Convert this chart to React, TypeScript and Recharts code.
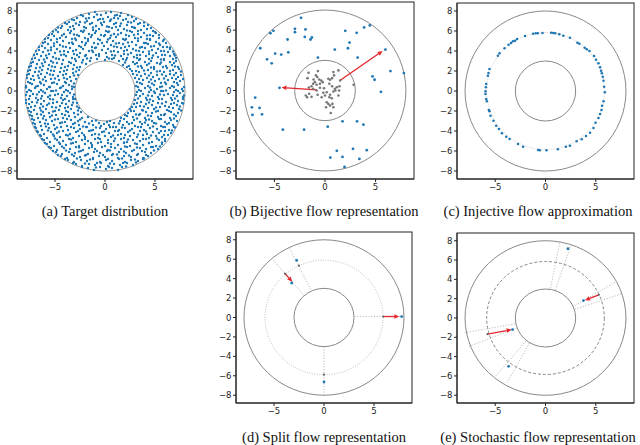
import { ScatterChart, Scatter, XAxis, YAxis, ReferenceArea, ReferenceLine } from "recharts";
import { type FC, type ReactNode } from "react";

type Pt = [number, number];
type Seg = [number, number, number, number];

// (a) samples of the target annulus
const targetPoints: Pt[] = [
  [-1.6,7.7],[-1.0,7.9],[-0.4,7.6],[0.1,7.8],[0.6,7.9],[1.2,7.6],[1.6,7.8],
  [-2.8,7.3],[-2.2,7.5],[-1.6,7.3],[-1.1,7.4],[-0.5,7.2],[0.3,7.4],[0.9,7.3],[1.5,7.5],[2.1,7.2],[2.7,7.4],
  [-3.6,6.9],[-3.1,7.1],[-2.5,6.9],[-1.8,7.0],[-1.3,6.8],[-0.7,7.1],[-0.1,6.9],[0.5,7.0],[1.1,6.8],[1.8,7.1],[2.3,6.9],[2.9,7.0],[3.5,6.8],
  [-4.3,6.5],[-3.8,6.7],[-3.2,6.5],[-2.6,6.6],[-2.1,6.4],[-1.5,6.7],[-0.9,6.5],[-0.3,6.6],[0.4,6.4],[0.9,6.7],[1.5,6.5],[2.2,6.6],[2.7,6.4],[3.3,6.7],[3.9,6.5],[4.3,6.6],
  [-4.9,6.1],[-4.4,6.3],[-3.7,6.1],[-3.1,6.2],[-2.4,6.0],[-1.9,6.3],[-1.2,6.1],[-0.6,6.2],[0.1,6.0],[0.7,6.3],[1.3,6.1],[1.9,6.2],[2.5,6.0],[3.0,6.3],[3.6,6.1],[4.2,6.2],[4.8,6.0],
  [-5.3,5.7],[-4.7,5.9],[-4.1,5.7],[-3.5,5.8],[-2.8,5.6],[-2.2,5.9],[-1.6,5.7],[-1.0,5.8],[-0.4,5.6],[0.3,5.9],[0.9,5.7],[1.6,5.8],[2.1,5.6],[2.7,5.9],[3.3,5.7],[3.9,5.8],[4.5,5.6],[5.1,5.8],
  [-5.7,5.3],[-5.1,5.5],[-4.5,5.3],[-3.9,5.4],[-3.3,5.2],[-2.6,5.5],[-2.0,5.3],[-1.4,5.4],[-0.7,5.2],[-0.1,5.5],[0.5,5.3],[1.1,5.4],[1.8,5.2],[2.4,5.5],[3.0,5.3],[3.6,5.4],[4.2,5.2],[4.8,5.5],[5.4,5.3],
  [-6.0,4.9],[-5.4,5.1],[-4.8,4.9],[-4.2,5.0],[-3.6,4.8],[-2.9,5.1],[-2.3,4.9],[-1.7,5.0],[-1.1,4.8],[-0.5,5.1],[0.2,4.9],[0.8,5.0],[1.4,4.8],[2.0,5.1],[2.7,4.9],[3.3,5.0],[3.9,4.8],[4.5,5.1],[5.1,4.9],[5.8,5.0],
  [-6.3,4.5],[-5.7,4.7],[-5.1,4.5],[-4.5,4.6],[-3.9,4.4],[-3.2,4.7],[-2.6,4.5],[-2.0,4.6],[-1.3,4.4],[-0.7,4.7],[-0.1,4.5],[0.6,4.6],[1.2,4.4],[1.8,4.7],[2.4,4.5],[3.1,4.6],[3.7,4.4],[4.3,4.7],[4.9,4.5],[5.5,4.6],[6.2,4.4],
  [-6.6,4.1],[-6.0,4.3],[-5.4,4.1],[-4.8,4.2],[-4.1,4.0],[-3.5,4.3],[-2.9,4.1],[-2.2,4.2],[-1.6,4.0],[-1.0,4.3],[-0.3,4.1],[0.3,4.2],[0.9,4.0],[1.6,4.3],[2.2,4.1],[2.8,4.2],[3.4,4.0],[4.0,4.3],[4.7,4.1],[5.3,4.2],[5.9,4.0],[6.5,4.2],
  [-6.8,3.7],[-6.2,3.9],[-5.6,3.7],[-5.0,3.8],[-4.4,3.6],[-3.7,3.9],[-3.1,3.7],[-2.5,3.8],[-1.9,3.6],[-1.2,3.9],[-0.6,3.7],[0.1,3.8],[0.7,3.6],[1.3,3.9],[1.9,3.7],[2.6,3.8],[3.2,3.6],[3.8,3.9],[4.4,3.7],[5.1,3.8],[5.7,3.6],[6.3,3.9],[6.9,3.7],
  [-7.0,3.3],[-6.4,3.5],[-5.8,3.3],[-5.2,3.4],[-4.6,3.2],[-3.9,3.5],[-3.3,3.3],[-2.6,3.4],[-2.0,3.5],[-1.4,3.3],[-0.6,3.5],[0.2,3.4],[0.9,3.3],[1.6,3.5],[2.2,3.3],[2.9,3.4],[3.5,3.2],[4.1,3.5],[4.7,3.3],[5.3,3.4],[5.9,3.2],[6.5,3.5],[7.1,3.3],
  [-7.2,2.9],[-6.6,3.1],[-6.0,2.9],[-5.4,3.0],[-4.8,2.8],[-4.2,3.1],[-3.6,2.9],[-2.9,3.0],[-2.2,3.1],[-1.5,3.0],[-0.8,3.2],[0.0,3.1],[0.7,3.2],[1.4,3.0],[2.1,3.1],[2.8,2.9],[3.4,3.1],[4.0,2.9],[4.6,3.0],[5.2,2.8],[5.9,3.1],[6.5,2.9],[7.1,3.0],
  [-7.4,2.5],[-6.8,2.7],[-6.2,2.5],[-5.6,2.6],[-5.0,2.4],[-4.3,2.7],[-3.7,2.5],[-3.1,2.6],[-2.5,2.4],[-1.9,2.7],[1.8,2.6],[2.4,2.5],[3.0,2.7],[3.6,2.5],[4.2,2.6],[4.9,2.4],[5.5,2.7],[6.1,2.5],[6.7,2.6],[7.3,2.4],
  [-7.5,2.1],[-6.9,2.3],[-6.3,2.1],[-5.7,2.2],[-5.1,2.0],[-4.4,2.3],[-3.8,2.1],[-3.2,2.2],[-2.6,2.1],[2.5,2.2],[3.1,2.0],[3.7,2.3],[4.3,2.1],[4.9,2.2],[5.5,2.0],[6.2,2.3],[6.8,2.1],[7.4,2.2],
  [-7.6,1.7],[-7.0,1.9],[-6.4,1.7],[-5.8,1.8],[-5.2,1.6],[-4.5,1.9],[-3.9,1.7],[-3.2,1.8],[-2.7,1.6],[2.8,1.7],[3.4,1.9],[4.0,1.7],[4.6,1.8],[5.2,1.6],[5.9,1.9],[6.5,1.7],[7.1,1.8],[7.6,1.6],
  [-7.8,1.3],[-7.2,1.5],[-6.6,1.3],[-6.0,1.4],[-5.4,1.2],[-4.7,1.5],[-4.1,1.3],[-3.5,1.4],[-2.9,1.2],[3.0,1.3],[3.6,1.5],[4.2,1.3],[4.8,1.4],[5.4,1.2],[6.1,1.5],[6.7,1.3],[7.3,1.4],[7.8,1.2],
  [-7.7,0.9],[-7.1,1.1],[-6.5,0.9],[-5.9,1.0],[-5.3,0.8],[-4.6,1.1],[-4.0,0.9],[-3.4,1.0],[3.2,0.9],[3.8,1.1],[4.4,0.9],[5.0,1.0],[5.6,0.8],[6.3,1.1],[6.9,0.9],[7.5,1.0],
  [-7.9,0.5],[-7.3,0.7],[-6.7,0.5],[-6.1,0.6],[-5.5,0.4],[-4.8,0.7],[-4.2,0.5],[-3.6,0.6],[-3.1,0.4],[3.1,0.5],[3.7,0.7],[4.3,0.5],[4.9,0.6],[5.5,0.4],[6.1,0.7],[6.7,0.5],[7.3,0.6],[7.9,0.4],
  [-7.6,0.1],[-7.0,0.3],[-6.4,0.1],[-5.8,0.2],[-5.2,0.0],[-4.5,0.3],[-3.9,0.1],[-3.3,0.2],[3.4,0.1],[4.0,0.3],[4.6,0.1],[5.2,0.2],[5.8,0.0],[6.5,0.3],[7.1,0.1],[7.7,0.2],
  [-7.8,-0.1],[-7.2,-0.3],[-6.6,-0.1],[-6.0,-0.2],[-5.4,0.0],[-4.7,-0.3],[-4.1,-0.1],[-3.5,-0.2],[3.2,-0.1],[3.8,-0.3],[4.4,-0.1],[5.0,-0.2],[5.6,0.0],[6.3,-0.3],[6.9,-0.1],[7.5,-0.2],
  [-7.5,-0.5],[-6.9,-0.7],[-6.3,-0.5],[-5.7,-0.6],[-5.0,-0.4],[-4.4,-0.7],[-3.8,-0.5],[-3.2,-0.6],[3.5,-0.5],[4.1,-0.7],[4.7,-0.5],[5.3,-0.6],[5.9,-0.4],[6.6,-0.7],[7.2,-0.5],[7.8,-0.6],
  [-7.9,-0.9],[-7.3,-1.1],[-6.7,-0.9],[-6.1,-1.0],[-5.5,-0.8],[-4.8,-1.1],[-4.2,-0.9],[-3.6,-1.0],[-3.0,-0.8],[3.0,-0.9],[3.6,-1.1],[4.2,-0.9],[4.8,-1.0],[5.4,-0.8],[6.1,-1.1],[6.7,-0.9],[7.3,-1.0],[7.8,-0.8],
  [-7.6,-1.3],[-7.0,-1.5],[-6.4,-1.3],[-5.8,-1.4],[-5.2,-1.2],[-4.5,-1.5],[-3.9,-1.3],[-3.3,-1.4],[-2.8,-1.2],[2.9,-1.3],[3.5,-1.5],[4.1,-1.3],[4.7,-1.4],[5.3,-1.2],[6.0,-1.5],[6.6,-1.3],[7.2,-1.4],[7.7,-1.2],
  [-7.7,-1.7],[-7.1,-1.9],[-6.5,-1.7],[-5.9,-1.8],[-5.3,-1.6],[-4.6,-1.9],[-4.0,-1.7],[-3.4,-1.8],[-2.6,-1.7],[2.5,-1.8],[3.1,-1.6],[3.7,-1.9],[4.3,-1.7],[4.9,-1.8],[5.5,-1.6],[6.2,-1.9],[6.8,-1.7],[7.4,-1.8],
  [-7.4,-2.1],[-6.8,-2.3],[-6.2,-2.1],[-5.6,-2.2],[-5.0,-2.0],[-4.3,-2.3],[-3.7,-2.1],[-3.1,-2.2],[-2.4,-2.1],[2.3,-2.2],[2.9,-2.0],[3.5,-2.3],[4.1,-2.1],[4.7,-2.2],[5.3,-2.0],[6.0,-2.3],[6.6,-2.1],[7.3,-2.2],
  [-7.3,-2.5],[-6.7,-2.7],[-6.1,-2.5],[-5.5,-2.6],[-4.9,-2.4],[-4.2,-2.7],[-3.6,-2.5],[-3.0,-2.6],[-2.3,-2.7],[-1.7,-2.6],[1.6,-2.7],[2.2,-2.5],[2.8,-2.6],[3.4,-2.4],[4.0,-2.7],[4.6,-2.5],[5.3,-2.6],[5.9,-2.4],[6.5,-2.7],[7.1,-2.5],
  [-7.1,-2.9],[-6.5,-3.1],[-5.9,-2.9],[-5.3,-3.0],[-4.7,-2.8],[-4.0,-3.1],[-3.4,-2.9],[-2.7,-3.0],[-2.0,-3.1],[-1.3,-3.0],[-0.6,-3.2],[0.2,-3.1],[0.9,-3.2],[1.5,-3.0],[2.2,-3.1],[2.9,-2.9],[3.5,-3.1],[4.1,-2.9],[4.7,-3.0],[5.4,-2.8],[6.0,-3.1],[6.6,-2.9],[7.2,-3.0],
  [-7.0,-3.3],[-6.4,-3.5],[-5.7,-3.3],[-5.1,-3.4],[-4.5,-3.2],[-3.8,-3.5],[-3.2,-3.3],[-2.6,-3.4],[-1.9,-3.6],[-1.2,-3.4],[-0.4,-3.5],[0.4,-3.4],[1.1,-3.6],[1.8,-3.4],[2.4,-3.3],[3.0,-3.5],[3.7,-3.3],[4.3,-3.4],[4.9,-3.2],[5.6,-3.5],[6.2,-3.3],[6.8,-3.4],
  [-6.9,-3.7],[-6.3,-3.9],[-5.6,-3.7],[-5.0,-3.8],[-4.4,-3.6],[-3.7,-3.9],[-3.1,-3.7],[-2.5,-3.8],[-1.8,-3.6],[-1.2,-3.9],[-0.5,-3.7],[0.1,-3.8],[0.8,-3.6],[1.4,-3.9],[2.0,-3.7],[2.7,-3.8],[3.3,-3.6],[3.9,-3.9],[4.5,-3.7],[5.2,-3.8],[5.8,-3.6],[6.4,-3.9],[6.9,-3.6],
  [-6.7,-4.1],[-6.1,-4.3],[-5.4,-4.1],[-4.8,-4.2],[-4.2,-4.0],[-3.5,-4.3],[-2.9,-4.1],[-2.3,-4.2],[-1.6,-4.0],[-1.0,-4.3],[-0.3,-4.1],[0.4,-4.2],[1.0,-4.0],[1.6,-4.3],[2.3,-4.1],[2.9,-4.2],[3.5,-4.0],[4.2,-4.3],[4.8,-4.1],[5.4,-4.2],[6.0,-4.0],[6.6,-4.2],
  [-6.4,-4.5],[-5.8,-4.7],[-5.1,-4.5],[-4.5,-4.6],[-3.9,-4.4],[-3.2,-4.7],[-2.6,-4.5],[-2.0,-4.6],[-1.3,-4.4],[-0.7,-4.7],[0.0,-4.5],[0.6,-4.6],[1.3,-4.4],[1.9,-4.7],[2.5,-4.5],[3.2,-4.6],[3.8,-4.4],[4.4,-4.7],[5.1,-4.5],[5.7,-4.6],[6.3,-4.4],
  [-6.1,-4.9],[-5.5,-5.1],[-4.8,-4.9],[-4.2,-5.0],[-3.6,-4.8],[-2.9,-5.1],[-2.3,-4.9],[-1.7,-5.0],[-1.0,-4.8],[-0.4,-5.1],[0.3,-4.9],[0.9,-5.0],[1.6,-4.8],[2.2,-5.1],[2.8,-4.9],[3.5,-5.0],[4.1,-4.8],[4.7,-5.1],[5.4,-4.9],[6.0,-5.0],
  [-5.8,-5.3],[-5.1,-5.5],[-4.5,-5.3],[-3.9,-5.4],[-3.2,-5.2],[-2.6,-5.5],[-2.0,-5.3],[-1.3,-5.4],[-0.7,-5.2],[0.0,-5.5],[0.6,-5.3],[1.3,-5.4],[1.9,-5.2],[2.5,-5.5],[3.2,-5.3],[3.8,-5.4],[4.4,-5.2],[5.1,-5.5],[5.7,-5.3],
  [-5.4,-5.7],[-4.8,-5.9],[-4.1,-5.7],[-3.5,-5.8],[-2.9,-5.6],[-2.2,-5.9],[-1.6,-5.7],[-1.0,-5.8],[-0.3,-5.6],[0.3,-5.9],[1.0,-5.7],[1.6,-5.8],[2.2,-5.6],[2.9,-5.9],[3.5,-5.7],[4.1,-5.8],[4.8,-5.6],[5.3,-5.8],
  [-4.9,-6.1],[-4.3,-6.3],[-3.6,-6.1],[-3.0,-6.2],[-2.4,-6.0],[-1.7,-6.3],[-1.1,-6.1],[-0.5,-6.2],[0.2,-6.0],[0.8,-6.3],[1.4,-6.1],[2.1,-6.2],[2.7,-6.0],[3.3,-6.3],[4.0,-6.1],[4.6,-6.2],
  [-4.4,-6.5],[-3.8,-6.7],[-3.1,-6.5],[-2.5,-6.6],[-1.9,-6.4],[-1.2,-6.7],[-0.6,-6.5],[0.0,-6.6],[0.7,-6.4],[1.3,-6.7],[1.9,-6.5],[2.6,-6.6],[3.2,-6.4],[3.8,-6.7],[4.3,-6.5],
  [-3.7,-6.9],[-3.1,-7.1],[-2.4,-6.9],[-1.8,-7.0],[-1.2,-6.8],[-0.5,-7.1],[0.1,-6.9],[0.7,-7.0],[1.4,-6.8],[2.0,-7.1],[2.6,-6.9],[3.3,-7.0],[3.8,-6.8],
  [-2.9,-7.3],[-2.3,-7.5],[-1.6,-7.3],[-1.0,-7.4],[-0.4,-7.2],[0.3,-7.5],[0.9,-7.3],[1.5,-7.4],[2.2,-7.2],[2.8,-7.4],
  [-1.7,-7.7],[-1.1,-7.9],[-0.5,-7.6],[0.1,-7.8],[0.7,-7.7],[1.3,-7.9],[1.7,-7.6],
  // second, looser pass of samples between the rows above
  [-2.4,7.6],[-0.8,7.65],[1.0,7.55],[2.3,7.6],
  [-3.3,7.15],[-1.9,7.25],[-0.2,7.2],[0.6,7.15],[1.3,7.25],[3.1,7.2],
  [-4.0,6.8],[-2.9,6.75],[-2.0,6.85],[-0.4,6.8],[1.6,6.75],[2.6,6.85],[3.9,6.85],
  [-4.7,6.35],[-3.5,6.4],[-1.2,6.35],[0.2,6.45],[1.1,6.4],[2.9,6.35],[4.6,6.3],
  [-5.2,5.95],[-3.4,6.0],[-2.1,6.05],[-0.9,6.0],[0.4,5.95],[2.2,6.05],[3.3,6.0],[5.0,5.9],
  [-5.6,5.6],[-4.3,5.55],[-3.1,5.65],[-1.3,5.6],[0.0,5.6],[0.6,5.55],[1.3,5.65],[2.9,5.6],[4.2,5.55],[5.4,5.6],
  [-6.0,5.2],[-4.8,5.2],[-3.0,5.25],[-1.7,5.2],[0.3,5.15],[2.1,5.2],[3.3,5.25],[4.5,5.2],[5.9,5.15],
  [-6.2,4.8],[-5.1,4.75],[-3.3,4.85],[-1.9,4.8],[-0.3,4.8],[1.1,4.75],[2.3,4.85],[4.1,4.8],[5.4,4.75],[6.1,4.8],
  [-6.6,4.4],[-5.4,4.35],[-4.2,4.45],[-2.4,4.4],[-0.9,4.35],[0.9,4.45],[2.0,4.4],[3.5,4.35],[4.6,4.45],[5.8,4.4],[6.5,4.35],
  [-6.9,4.0],[-5.7,4.05],[-4.5,3.95],[-3.2,4.0],[-1.3,4.05],[0.6,3.95],[1.9,4.0],[3.1,4.05],[4.4,3.95],[5.6,4.0],[6.8,3.95],
  [-7.1,3.6],[-5.9,3.55],[-4.1,3.65],[-2.8,3.6],[-0.9,3.6],[1.0,3.55],[2.3,3.65],[3.5,3.6],[4.8,3.55],[6.0,3.6],[7.0,3.55],
  [-7.3,3.2],[-6.1,3.15],[-4.9,3.25],[-3.0,3.2],[-1.8,3.25],[0.4,3.25],[1.8,3.2],[3.2,3.3],[4.4,3.2],[5.6,3.15],[6.8,3.2],
  [-7.4,2.8],[-6.3,2.75],[-5.2,2.85],[-3.4,2.8],[-2.3,2.85],[2.0,2.85],[3.2,2.8],[4.4,2.75],[5.6,2.85],[6.9,2.8],
  [-7.6,2.4],[-6.5,2.35],[-5.3,2.45],[-4.0,2.4],[-2.8,2.35],[2.2,2.4],[3.3,2.45],[4.6,2.35],[5.8,2.4],[7.0,2.45],
  [-7.7,2.0],[-6.6,1.95],[-5.4,2.05],[-4.1,2.0],[-2.9,1.95],[2.7,2.0],[3.9,2.05],[5.2,1.95],[6.5,2.0],[7.6,1.95],
  [-7.8,1.6],[-6.7,1.55],[-5.5,1.65],[-4.2,1.6],[-3.1,1.55],[3.2,1.6],[4.4,1.55],[5.7,1.65],[6.9,1.6],
  [-7.4,1.2],[-6.2,1.15],[-5.0,1.25],[-3.8,1.2],[3.4,1.2],[4.6,1.15],[5.9,1.25],[7.1,1.2],
  [-7.5,0.8],[-6.4,0.75],[-5.1,0.85],[-3.9,0.8],[-3.1,0.75],[3.5,0.8],[4.7,0.75],[6.0,0.85],[7.2,0.8],
  [-7.9,0.35],[-6.9,0.45],[-5.6,0.4],[-4.4,0.35],[-3.3,0.45],[3.3,0.4],[4.5,0.35],[5.7,0.45],[6.9,0.4],[7.8,0.0],
  [-7.4,0.0],[-6.2,-0.05],[-4.9,0.05],[-3.7,0.0],[3.6,0.0],[4.9,-0.05],[6.1,0.05],[7.3,0.0],
  [-7.9,-0.4],[-6.8,-0.35],[-5.5,-0.45],[-4.3,-0.4],[-3.1,-0.35],[3.1,-0.4],[4.3,-0.45],[5.5,-0.35],[6.8,-0.4],[7.9,-0.45],
  [-7.6,-0.8],[-6.4,-0.75],[-5.2,-0.85],[-4.0,-0.8],[-3.2,-0.8],[3.3,-0.75],[4.5,-0.85],[5.7,-0.8],[7.0,-0.75],
  [-7.9,-1.2],[-6.8,-1.15],[-5.6,-1.25],[-4.3,-1.2],[-3.2,-1.15],[3.2,-1.2],[4.4,-1.15],[5.7,-1.25],[6.9,-1.2],[7.8,-1.25],
  [-7.4,-1.6],[-6.2,-1.55],[-4.9,-1.65],[-3.7,-1.6],[-2.8,-1.55],[2.7,-1.6],[3.9,-1.55],[5.1,-1.65],[6.4,-1.6],[7.5,-1.55],
  [-7.6,-2.0],[-6.4,-1.95],[-5.2,-2.05],[-3.9,-2.0],[-2.7,-1.95],[2.6,-2.0],[3.8,-1.95],[5.1,-2.05],[6.4,-2.0],[7.6,-1.95],
  [-7.5,-2.4],[-6.4,-2.35],[-5.3,-2.45],[-4.0,-2.4],[-2.7,-2.35],[2.0,-2.4],[3.1,-2.35],[4.3,-2.45],[5.6,-2.4],[6.9,-2.35],
  [-7.3,-2.8],[-6.2,-2.75],[-5.0,-2.85],[-3.8,-2.8],[-2.5,-2.85],[-0.9,-2.95],[0.5,-3.0],[1.9,-2.8],[3.2,-2.75],[4.4,-2.85],[5.6,-2.8],[6.9,-2.75],
  [-7.2,-3.2],[-6.0,-3.25],[-4.3,-3.15],[-3.0,-3.2],[-1.6,-3.25],[-0.1,-3.3],[1.4,-3.25],[2.7,-3.2],[4.0,-3.15],[5.1,-3.25],[6.4,-3.2],
  [-7.0,-3.6],[-5.9,-3.55],[-4.8,-3.65],[-3.4,-3.6],[-2.2,-3.55],[-0.9,-3.65],[0.5,-3.6],[1.7,-3.65],[3.6,-3.6],[4.8,-3.55],[6.0,-3.6],[7.0,-3.65],
  [-6.8,-4.0],[-5.7,-3.95],[-4.6,-4.05],[-2.7,-4.0],[-1.4,-3.95],[-0.1,-4.05],[1.3,-4.0],[2.5,-3.95],[4.1,-4.05],[5.6,-4.0],[6.7,-3.95],
  [-6.5,-4.4],[-5.2,-4.35],[-3.7,-4.45],[-2.1,-4.4],[-0.6,-4.35],[0.8,-4.45],[2.0,-4.4],[3.3,-4.35],[4.6,-4.45],[5.9,-4.4],
  [-6.3,-4.8],[-5.0,-4.75],[-3.4,-4.85],[-2.0,-4.8],[-0.5,-4.8],[1.0,-4.75],[2.3,-4.85],[3.8,-4.8],[5.2,-4.75],[6.0,-4.8],
  [-6.0,-5.2],[-4.6,-5.15],[-3.4,-5.25],[-1.4,-5.2],[0.3,-5.2],[1.9,-5.15],[3.0,-5.25],[4.4,-5.2],[5.7,-5.15],
  [-5.6,-5.6],[-4.3,-5.55],[-2.6,-5.65],[-1.3,-5.6],[0.6,-5.6],[2.0,-5.55],[3.2,-5.65],[4.6,-5.6],[5.5,-5.55],
  [-5.2,-6.0],[-3.9,-5.95],[-2.6,-6.05],[-0.8,-6.0],[0.5,-5.95],[1.9,-6.05],[3.7,-6.0],[4.9,-5.95],
  [-4.7,-6.4],[-3.3,-6.35],[-2.0,-6.45],[-0.2,-6.4],[1.2,-6.35],[2.4,-6.45],[4.1,-6.4],
  [-4.0,-6.8],[-2.8,-6.75],[-1.5,-6.85],[0.3,-6.8],[1.7,-6.75],[3.0,-6.85],[3.9,-6.75],
  [-3.2,-7.2],[-2.0,-7.25],[-0.8,-7.2],[0.5,-7.25],[1.8,-7.2],[3.1,-7.15],
  [-2.3,-7.6],[-0.9,-7.65],[0.4,-7.6],[2.1,-7.55],
];

// (b) bijective flow: mapped samples (blue), base samples (grey), two arrows
const bijectiveBlue: Pt[] = [
  [-2.37,7.23],[-2.97,6.13],[-2.97,5.8],[-1.93,6.07],[-2.0,5.33],[-1.3,5.27],[-1.43,5.07],[-3.7,5.07],
  [-5.1,5.93],[-5.4,5.7],[-6.4,4.2],[-4.93,3.67],[-4.33,3.57],[-3.63,3.8],[-5.73,3.1],[-5.27,2.7],
  [-0.7,3.27],[0.97,4.07],[2.0,5.93],[3.13,5.73],[3.87,6.27],[4.43,6.47],[2.43,4.77],[2.27,4.2],
  [3.23,3.27],[5.97,4.07],[6.47,1.93],[7.8,1.73],[4.7,1.4],[4.9,1.07],[5.53,-0.13],[-4.5,0.27],
  [-6.9,-0.7],[-7.23,-1.67],[-7.17,-2.43],[-6.47,-1.73],[-6.23,-2.37],[-4.17,-3.9],[-2.07,-3.9],[0.27,-3.6],
  [1.73,-3.07],[3.17,-3.07],[3.8,-3.4],[2.77,-5.8],[4.13,-5.93],[1.17,-6.0],[0.53,-6.67],[1.73,-6.6],
  [3.4,-6.8],[1.93,-7.6],
];
const bijectiveGrey: Pt[] = [
  [-1.63,1.77],[-0.7,1.93],[-1.73,1.23],[-0.77,1.33],[-0.57,1.1],[-0.37,1.0],[-1.0,0.83],[-1.17,0.67],
  [-0.83,0.57],[-0.5,0.67],[-0.23,0.83],[0.33,1.17],[0.5,1.07],[0.7,1.23],[0.83,1.83],[1.33,2.0],
  [0.43,0.67],[0.7,0.43],[0.97,0.17],[1.17,0.33],[1.43,0.43],[1.5,1.0],[2.83,0.57],[-1.17,0.17],
  [-1.57,-0.33],[-1.9,-0.5],[-1.77,-0.67],[-1.33,-0.63],[-0.83,0.0],[-0.73,-0.43],[-0.33,-0.67],[0.0,-0.5],
  [-0.17,-0.23],[0.17,-0.17],[0.5,-0.43],[0.83,-0.1],[1.03,0.0],[0.43,-0.67],[0.67,-0.77],[0.17,-1.17],
  [0.33,-1.33],[0.73,-1.33],[0.5,-1.5],[0.83,-1.67],[0.1,-1.67],[0.57,-2.23],[1.33,-0.5],[-1.33,0.43],
  [-1.6,0.3],[-0.5,0.27],[-0.1,0.23],[0.9,1.5],[-1.13,1.1],[-0.9,1.5],[1.4,0.0],
];
const bijectiveArrows: Seg[] = [
  [1.47, 1.0, 5.7, 3.93],
  [-0.8, 0.07, -4.3, 0.3],
];

// (c) injective flow: samples squeezed onto a circle
const injectiveRadius = 5.85;
const injectivePoints: Pt[] = [
  [-2.03,5.5],[-1.23,5.73],[-0.97,5.77],[-0.77,5.77],[-0.3,5.8],[0.57,5.83],[0.77,5.8],[0.97,5.77],
  [1.37,5.67],[1.77,5.53],[2.43,5.33],[3.17,4.83],[3.37,4.73],[3.9,4.33],[4.1,4.17],[4.37,4.0],
  [4.83,3.5],[5.03,3.13],[5.27,2.77],[5.43,2.37],[5.53,2.03],[5.6,1.77],[5.7,1.43],[5.77,1.03],
  [5.83,0.43],[5.9,-0.13],[5.77,-1.03],[5.63,-1.47],[5.57,-1.9],[5.43,-2.3],[5.27,-2.7],[4.97,-3.17],
  [4.77,-3.7],[4.43,-4.17],[4.03,-4.5],[3.6,-4.83],[3.1,-5.03],[2.43,-5.47],[2.03,-5.57],[1.23,-5.83],
  [0.1,-5.93],[-0.57,-5.93],[-0.73,-5.9],[-2.23,-5.57],[-2.73,-5.3],[-3.57,-4.8],[-3.9,-4.57],[-4.33,-4.23],
  [-4.63,-3.8],[-4.9,-3.47],[-5.17,-2.97],[-5.47,-2.47],[-5.57,-2.03],[-5.63,-1.9],[-5.83,-1.03],[-5.9,-0.8],
  [-5.97,-0.3],[-5.97,-0.03],[-5.93,0.37],[-5.9,0.7],[-5.73,1.53],[-5.67,1.8],[-5.57,2.2],[-4.73,3.53],
  [-4.57,3.77],[-4.07,4.27],[-3.67,4.63],[-3.43,4.8],[-3.23,4.97],[-3.03,5.03],[-2.83,5.2],
];

// (d) split flow
const splitRadius = 5.9;
const splitBlue: Pt[] = [[-2.73,5.88],[-3.23,3.55],[7.77,0.1],[0.0,-6.63]];
const splitGrey: Pt[] = [[-2.5,5.33],[-3.9,4.51],[5.93,0.1],[0.0,-5.87]];
const splitArrows: Seg[] = [
  [-3.9, 4.51, -3.17, 3.69],
  [5.93, 0.1, 7.53, 0.1],
];
const splitRays: Seg[] = [
  [-1.33, 2.87, -3.43, 7.08],
  [-2.07, 2.36, -5.17, 6.02],
  [3.03, 0.1, 7.93, 0.1],
  [0.0, -3.0, 0.0, -8.0],
];

// (e) stochastic flow
const stochasticRadius = 5.85;
const stochasticBlue: Pt[] = [[2.23,7.17],[3.77,1.8],[-3.27,-1.2],[-3.67,-5.0]];
const stochasticGrey: Pt[] = [[5.3,2.4],[-5.77,-1.67]];
const stochasticArrows: Seg[] = [
  [5.3, 2.4, 3.93, 1.83],
  [-5.77, -1.67, -3.37, -1.2],
];
const stochasticRays: Seg[] = [
  [0.5, 3.07, 1.4, 7.73],
  [0.97, 2.9, 2.57, 7.67],
  [2.73, 1.17, 6.97, 3.73],
  [2.9, 0.9, 7.57, 2.5],
  [-3.03, -0.6, -8.03, -1.53],
  [-2.83, -1.03, -7.6, -2.93],
  [-1.93, -2.37, -5.03, -6.1],
  [-1.6, -2.6, -3.83, -6.7],
];

const innerRadius = 3;
const outerRadius = 8;
const domain: [number, number] = [-8.8, 8.8];
const xTicks = [-5, 0, 5];
const yTicks = [-8, -6, -4, -2, 0, 2, 4, 6, 8];

const BLUE = "#1f77b4";
const RED = "#e3262b";

const toXY = (a: Pt[]) => a.map(([x, y]) => ({ x, y }));
const fmt = (v: number) => (v < 0 ? "\u2212" + Math.abs(v) : String(v));

const dot = (r: number, fill: string) => (p: any) =>
  p.cx == null ? <g /> : <circle cx={p.cx} cy={p.cy} r={r} fill={fill} />;

const ring = (stroke: string, width: number, dash?: string) => (p: any) => (
  <ellipse
    cx={p.x + p.width / 2}
    cy={p.y + p.height / 2}
    rx={Math.abs(p.width) / 2}
    ry={Math.abs(p.height) / 2}
    fill="none"
    stroke={stroke}
    strokeWidth={width}
    strokeDasharray={dash}
  />
);

const frame = (p: any) => (
  <rect x={p.x} y={p.y} width={p.width} height={p.height} fill="none" stroke="#222" strokeWidth={1} />
);

const arrow = (p: any) => {
  const { x1, y1, x2, y2 } = p;
  if (x1 == null) return <g />;
  const a = Math.atan2(y2 - y1, x2 - x1);
  const len = 5;
  const w = 2.3;
  const bx = x2 - len * Math.cos(a);
  const by = y2 - len * Math.sin(a);
  const pts = `${x2},${y2} ${bx - w * Math.sin(a)},${by + w * Math.cos(a)} ${bx + w * Math.sin(a)},${by - w * Math.cos(a)}`;
  return (
    <g>
      <line x1={x1} y1={y1} x2={bx} y2={by} stroke={RED} strokeWidth={1.3} />
      <polygon points={pts} fill={RED} />
    </g>
  );
};

const ray = (p: any) =>
  p.x1 == null ? <g /> : (
    <line x1={p.x1} y1={p.y1} x2={p.x2} y2={p.y2} stroke="#aaa" strokeWidth={0.8} strokeDasharray="1.2 1.6" />
  );

const circle = (r: number, stroke: string, width: number, dash?: string) => (
  <ReferenceArea
    key={"c" + r + stroke}
    x1={-r}
    x2={r}
    y1={-r}
    y2={r}
    ifOverflow="visible"
    shape={ring(stroke, width, dash)}
  />
);

const segments = (segs: Seg[], shape: (p: any) => any, id: string) =>
  segs.map(([x1, y1, x2, y2], i) => (
    <ReferenceLine
      key={id + i}
      segment={[{ x: x1, y: y1 }, { x: x2, y: y2 }]}
      ifOverflow="hidden"
      shape={shape}
    />
  ));

type Box = { x: number; y: number; w: number; h: number };

const YW = 24;
const XH = 22;
const tickStyle = { fontSize: 8.5, fill: "#222", fontFamily: "DejaVu Sans" };

const Panel: FC<{ box: Box; children: ReactNode }> = ({ box, children }) => (
  <div style={{ position: "absolute", left: box.x - YW, top: box.y - 2 }}>
    <ScatterChart
      width={box.w + YW + 4}
      height={box.h + 2 + XH}
      margin={{ top: 2, right: 4, left: 0, bottom: 0 }}
    >
      <XAxis
        type="number"
        dataKey="x"
        domain={domain}
        allowDataOverflow
        ticks={xTicks}
        tickFormatter={fmt}
        height={XH}
        tickSize={3}
        tickMargin={2}
        stroke="#222"
        tick={tickStyle}
      />
      <YAxis
        type="number"
        dataKey="y"
        domain={domain}
        allowDataOverflow
        ticks={yTicks}
        tickFormatter={fmt}
        width={YW}
        tickSize={3}
        tickMargin={1.5}
        stroke="#222"
        tick={tickStyle}
      />
      <ReferenceArea x1={domain[0]} x2={domain[1]} y1={domain[0]} y2={domain[1]} ifOverflow="visible" shape={frame} />
      {children}
    </ScatterChart>
  </div>
);

const captionStyle = (cx: number, cy: number) => ({
  position: "absolute" as const,
  left: cx - 130,
  top: cy - 9,
  width: 260,
  textAlign: "center" as const,
  fontFamily: "'Liberation Serif', 'Times New Roman', serif",
  fontSize: 14.5,
  lineHeight: "18px",
  color: "#111",
  whiteSpace: "nowrap" as const,
});

export default function App() {
  return (
    <div style={{ position: "fixed", left: 0, top: 0, width: 640, height: 445, background: "#fff", overflow: "hidden" }}>
      <Panel box={{ x: 17, y: 3, w: 176, h: 176 }}>
        {circle(outerRadius, "#999", 1)}
        {circle(innerRadius, "#999", 1)}
        <Scatter data={toXY(targetPoints)} shape={dot(1.2, BLUE)} isAnimationActive={false} />
      </Panel>

      <Panel box={{ x: 236, y: 2, w: 178, h: 177 }}>
        {circle(outerRadius, "#888", 1)}
        {circle(innerRadius, "#888", 1)}
        <Scatter data={toXY(bijectiveGrey)} shape={dot(1.3, "#777")} isAnimationActive={false} />
        <Scatter data={toXY(bijectiveBlue)} shape={dot(1.4, BLUE)} isAnimationActive={false} />
        {segments(bijectiveArrows, arrow, "ba")}
      </Panel>

      <Panel box={{ x: 457, y: 3, w: 177, h: 176 }}>
        {circle(outerRadius, "#888", 1)}
        {circle(innerRadius, "#888", 1)}
        {circle(injectiveRadius, "#bbb", 0.8, "1 1.5")}
        <Scatter data={toXY(injectivePoints)} shape={dot(1.3, BLUE)} isAnimationActive={false} />
      </Panel>

      <Panel box={{ x: 236, y: 232, w: 176, h: 171 }}>
        {circle(outerRadius, "#888", 1)}
        {circle(innerRadius, "#888", 1)}
        {circle(splitRadius, "#aaa", 0.8, "1 1.5")}
        {segments(splitRays, ray, "sr")}
        <Scatter data={toXY(splitGrey)} shape={dot(1.1, "#666")} isAnimationActive={false} />
        <Scatter data={toXY(splitBlue)} shape={dot(1.4, BLUE)} isAnimationActive={false} />
        {segments(splitArrows, arrow, "sa")}
      </Panel>

      <Panel box={{ x: 457, y: 233, w: 177, h: 170 }}>
        {circle(outerRadius, "#888", 1)}
        {circle(innerRadius, "#888", 1)}
        {circle(stochasticRadius, "#777", 0.9, "3 2")}
        {segments(stochasticRays, ray, "tr")}
        <Scatter data={toXY(stochasticGrey)} shape={dot(1.1, "#666")} isAnimationActive={false} />
        <Scatter data={toXY(stochasticBlue)} shape={dot(1.4, BLUE)} isAnimationActive={false} />
        {segments(stochasticArrows, arrow, "ta")}
      </Panel>

      <div style={captionStyle(105, 211)}>(a) Target distribution</div>
      <div style={captionStyle(324, 211)}>(b) Bijective flow representation</div>
      <div style={captionStyle(538, 211)}>(c) Injective flow approximation</div>
      <div style={captionStyle(324, 437)}>(d) Split flow representation</div>
      <div style={captionStyle(538, 437)}>(e) Stochastic flow representation</div>
    </div>
  );
}
